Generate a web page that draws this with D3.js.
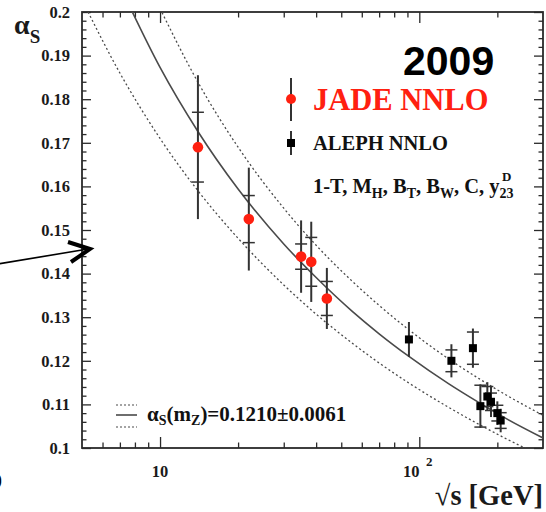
<!DOCTYPE html>
<html>
<head>
<meta charset="utf-8">
<script src="https://cdn.jsdelivr.net/npm/d3@7"></script>
<style>
body { margin: 0; background: #fff; }
svg { display: block; }
text { font-family: "Liberation Serif", "DejaVu Serif", serif; font-weight: bold; }
</style>
</head>
<body>
<svg id="chart" width="546" height="512"></svg>
<script>
///////  data ///////

// JADE NNLO (red dots): energy, alpha_s, total error, statistical error
var jadeE    = [14, 22, 35, 38.3, 44];
var jadeA    = [0.1690, 0.1525, 0.1439, 0.1427, 0.1343];
var jadeTot  = [0.0165, 0.0118, 0.0083, 0.0092, 0.0070];
var jadeStat = [0.0080, 0.0054, 0.0029, 0.0056, 0.0039];

// ALEPH NNLO (black squares)
var alephE    = [91.2, 133, 161, 172, 183, 189, 200, 206];
var alephA    = [0.1249, 0.1200, 0.1229, 0.1096, 0.1118, 0.1106, 0.1080, 0.1063];
var alephTot  = [0.0040, 0.0038, 0.0045, 0.0050, 0.0033, 0.0035, 0.0027, 0.0027];
var alephStat = [0.0000, 0.0025, 0.0037, 0.0048, 0.0023, 0.0020, 0.0018, 0.0018];

// fitted running coupling (solid) and its band (dotted)
var fitE = [7, 10, 14, 20, 30, 40, 55, 70, 91.2, 130, 170, 220, 300];
var fitA = [0.2060, 0.1873, 0.1726, 0.1594, 0.1468, 0.1391, 0.1314, 0.1262, 0.1210, 0.1147, 0.1104, 0.1065, 0.1023];
var upE  = [10, 14, 20, 30, 40, 55, 70, 91.2, 130, 170, 220, 300];
var upA  = [0.2008, 0.1839, 0.1690, 0.1550, 0.1465, 0.1383, 0.1327, 0.1271, 0.1204, 0.1159, 0.1119, 0.1075];
var loE  = [5, 7, 10, 14, 20, 30, 40, 55, 70, 91.2, 130, 170, 220, 300];
var loA  = [0.2028, 0.1860, 0.1710, 0.1590, 0.1481, 0.1374, 0.1307, 0.1241, 0.1195, 0.1149, 0.1093, 0.1054, 0.1019, 0.0980];

// ticks
var yTicks      = [0.1, 0.11, 0.12, 0.13, 0.14, 0.15, 0.16, 0.17, 0.18, 0.19, 0.2];
var yTickLabels = ["0.1", "0.11", "0.12", "0.13", "0.14", "0.15", "0.16", "0.17", "0.18", "0.19", "0.2"];
var xMajor      = [10, 100];
var xMinor      = [6, 7, 8, 9, 20, 30, 40, 50, 60, 70, 80, 90, 200];

///////  scales and frame ///////

var svg = d3.select("#chart"),
    pLeft = 82, pRight = 543, pTop = 12, pBottom = 448,
    frameCol = "#2a2a2a";

var x = d3.scaleLog().domain([5, 300]).range([pLeft, pRight]),
    y = d3.scaleLinear().domain([0.1, 0.2]).range([pBottom, pTop]);

var yMinor = d3.range(0, 51).map(function(i) { return 0.1 + i * 0.002; })
    .filter(function(v) { return Math.abs(v * 100 - Math.round(v * 100)) > 1e-6; });

function styleAxis(g) {
    g.select(".domain").remove();
    g.selectAll("line").attr("stroke", frameCol).attr("stroke-width", 1.3);
}

// left axis with labels
svg.append("g")
.attr("transform", "translate(" + pLeft + ",0)")
.call(d3.axisLeft(y).tickValues(yTicks).tickSize(-9).tickPadding(12)
      .tickFormat(function(d, i) { return yTickLabels[i]; }))
.call(styleAxis)
.selectAll("text")
.attr("fill", "#1a1a1a")
.style("font-size", "16.5px")
.style("font-family", "Liberation Serif").style("font-weight", "bold");

svg.append("g")
.attr("transform", "translate(" + pLeft + ",0)")
.call(d3.axisLeft(y).tickValues(yMinor).tickSize(-4.5).tickFormat(""))
.call(styleAxis);

// right axis, mirrored
svg.append("g")
.attr("transform", "translate(" + pRight + ",0)")
.call(d3.axisRight(y).tickValues(yTicks).tickSize(-9).tickFormat(""))
.call(styleAxis);
svg.append("g")
.attr("transform", "translate(" + pRight + ",0)")
.call(d3.axisRight(y).tickValues(yMinor).tickSize(-4.5).tickFormat(""))
.call(styleAxis);

// bottom and top axes
[[pBottom, d3.axisBottom], [pTop, d3.axisTop]].forEach(function(p) {
    svg.append("g")
    .attr("transform", "translate(0," + p[0] + ")")
    .call(p[1](x).tickValues(xMajor).tickSize(-11).tickFormat(""))
    .call(styleAxis);
    svg.append("g")
    .attr("transform", "translate(0," + p[0] + ")")
    .call(p[1](x).tickValues(xMinor).tickSize(-5.5).tickFormat(""))
    .call(styleAxis);
});

svg.append("rect")
.attr("x", pLeft).attr("y", pTop)
.attr("width", pRight - pLeft).attr("height", pBottom - pTop)
.attr("fill", "none").attr("stroke", frameCol).attr("stroke-width", 1.8);

// x tick labels
svg.append("text")
.attr("x", x(10)).attr("y", 477)
.attr("text-anchor", "middle").attr("font-size", "16.5px").attr("fill", "#1a1a1a")
.text("10");
svg.append("text")
.attr("x", x(100) - 8).attr("y", 477)
.attr("text-anchor", "middle").attr("font-size", "16.5px").attr("fill", "#1a1a1a")
.text("10");
svg.append("text")
.attr("x", x(100) + 10).attr("y", 466)
.attr("text-anchor", "middle").attr("font-size", "13px").attr("fill", "#1a1a1a")
.text("2");

// axis titles
svg.append("text")
.attr("x", pRight).attr("y", 505)
.attr("text-anchor", "end").attr("font-size", "28.5px").attr("fill", "#1a1a1a")
.text("\u221As [GeV]");

var ay = svg.append("text")
.attr("x", 14).attr("y", 34)
.attr("font-size", "28px").attr("fill", "#1a1a1a");
ay.append("tspan").text("\u03b1");
ay.append("tspan").attr("font-size", "19px").attr("dy", 9).text("S");

///////  curves ///////

svg.append("defs").append("clipPath")
.attr("id", "clip")
.append("rect")
.attr("x", pLeft).attr("y", pTop)
.attr("width", pRight - pLeft).attr("height", pBottom - pTop);

var line = d3.line()
.curve(d3.curveMonotoneX)
.x(function(d) { return x(d[0]); })
.y(function(d) { return y(d[1]); });

function drawCurve(es, as, dash, w) {
    svg.append("path")
    .datum(d3.zip(es, as))
    .attr("clip-path", "url(#clip)")
    .attr("fill", "none")
    .attr("stroke", "#4a4a4a")
    .attr("stroke-width", w)
    .attr("stroke-dasharray", dash)
    .attr("d", line);
}
drawCurve(upE, upA, "2,2.5", 1.3);
drawCurve(loE, loA, "2,2.5", 1.3);
drawCurve(fitE, fitA, null, 1.6);

///////  data points ///////

function errorBars(es, as, tot, stat) {
    var g = svg.append("g");
    es.forEach(function(e, i) {
        var cx = x(e);
        g.append("line")
        .attr("x1", cx).attr("x2", cx)
        .attr("y1", y(as[i] + tot[i])).attr("y2", y(as[i] - tot[i]))
        .attr("stroke", "#333").attr("stroke-width", 2);
        if (stat[i] > 0) {
            [as[i] + stat[i], as[i] - stat[i]].forEach(function(v) {
                g.append("line")
                .attr("x1", cx - 6).attr("x2", cx + 6)
                .attr("y1", y(v)).attr("y2", y(v))
                .attr("stroke", "#333").attr("stroke-width", 1.5);
            });
        }
    });
}
errorBars(jadeE, jadeA, jadeTot, jadeStat);
errorBars(alephE, alephA, alephTot, alephStat);

svg.selectAll(".jade")
.data(d3.zip(jadeE, jadeA))
.enter().append("circle")
.attr("class", "jade")
.attr("cx", function(d) { return x(d[0]); })
.attr("cy", function(d) { return y(d[1]); })
.attr("r", 5.3)
.attr("fill", "#ff2010");

svg.selectAll(".aleph")
.data(d3.zip(alephE, alephA))
.enter().append("rect")
.attr("class", "aleph")
.attr("x", function(d) { return x(d[0]) - 4; })
.attr("y", function(d) { return y(d[1]) - 4; })
.attr("width", 8).attr("height", 8)
.attr("fill", "#000");

///////  legend ///////

svg.append("text")
.attr("x", 403).attr("y", 75)
.style("font-family", "Liberation Sans").style("font-size", "41px")
.attr("fill", "#000")
.text("2009");

svg.append("line")
.attr("x1", 291).attr("x2", 291).attr("y1", 78).attr("y2", 121)
.attr("stroke", "#333").attr("stroke-width", 2);
svg.append("circle")
.attr("cx", 291).attr("cy", 99).attr("r", 5).attr("fill", "#ff2010");
svg.append("text")
.attr("x", 313).attr("y", 110)
.attr("font-size", "30.5px").attr("fill", "#ff2010")
.text("JADE NNLO");

svg.append("line")
.attr("x1", 291).attr("x2", 291).attr("y1", 131).attr("y2", 155)
.attr("stroke", "#333").attr("stroke-width", 2);
svg.append("rect")
.attr("x", 287).attr("y", 139).attr("width", 8).attr("height", 8).attr("fill", "#000");
svg.append("text")
.attr("x", 313).attr("y", 150)
.attr("font-size", "20.5px").attr("fill", "#111")
.text("ALEPH NNLO");

var vars = svg.append("text")
.attr("x", 313).attr("y", 193)
.attr("font-size", "20.5px").attr("fill", "#111");
[["1-T, M", 0], ["H", 1], [", B", 0], ["T", 1], [", B", 0], ["W", 1], [", C, y", 0], ["23", 1]]
.forEach(function(p, i, arr) {
    var prev = i > 0 ? arr[i - 1][1] : 0;
    vars.append("tspan")
    .attr("font-size", p[1] ? "14px" : "20.5px")
    .attr("dy", p[1] - prev ? (p[1] ? 5 : -5) : 0)
    .text(p[0]);
});
svg.append("text")
.attr("x", 502).attr("y", 181)
.attr("font-size", "13px").attr("fill", "#111")
.text("D");

// fit legend at the bottom
[[405, "2,2"], [415, null], [427, "2,2"]].forEach(function(p) {
    svg.append("line")
    .attr("x1", 116).attr("x2", 137).attr("y1", p[0]).attr("y2", p[0])
    .attr("stroke", "#4a4a4a").attr("stroke-width", p[1] ? 1.2 : 1.6)
    .attr("stroke-dasharray", p[1]);
});
var fl = svg.append("text")
.attr("x", 147).attr("y", 421)
.attr("font-size", "21px").attr("fill", "#111");
fl.append("tspan").text("\u03b1");
fl.append("tspan").attr("font-size", "14px").attr("dy", 4).text("S");
fl.append("tspan").attr("dy", -4).text("(m");
fl.append("tspan").attr("font-size", "14px").attr("dy", 4).text("Z");
fl.append("tspan").attr("dy", -4).text(")=0.1210\u00b10.0061");

///////  annotation arrow and cut-off glyph ///////

svg.append("line")
.attr("x1", -2).attr("y1", 264).attr("x2", 88).attr("y2", 249)
.attr("stroke", "#000").attr("stroke-width", 1.6);
svg.append("polyline")
.attr("points", "68,242 90,249 71,262")
.attr("fill", "none").attr("stroke", "#000").attr("stroke-width", 4)
.attr("stroke-linejoin", "miter");

svg.append("text")
.attr("x", -9).attr("y", 488)
.attr("font-size", "22px").attr("fill", "#000")
.text("0");
</script>
</body>
</html>
